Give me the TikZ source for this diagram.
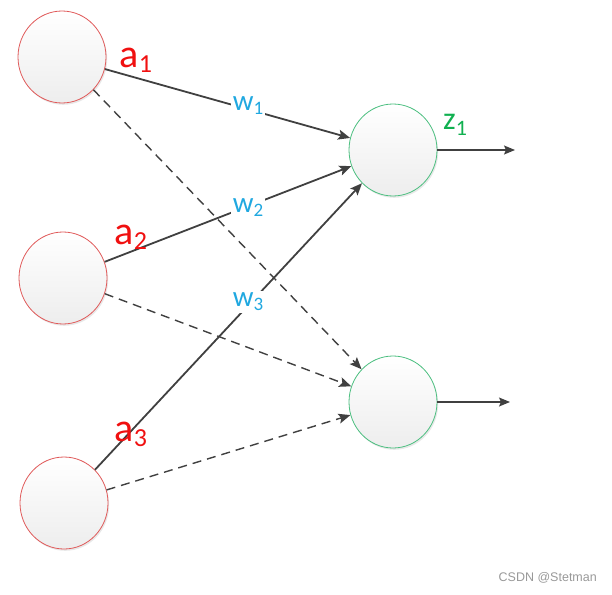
\documentclass[tikz,border=0pt]{standalone}
\usepackage{fontspec}
\setmainfont{Carlito}
\newfontfamily\wmfont{Liberation Sans}
\usetikzlibrary{shapes.geometric,arrows.meta,shadows}
\definecolor{labred}{HTML}{F01010}
\definecolor{labblue}{HTML}{20A8E0}
\definecolor{labgreen}{HTML}{10B050}
\definecolor{edgered}{HTML}{E05A5A}
\definecolor{edgegreen}{HTML}{4CBF80}
\definecolor{linegray}{HTML}{404040}
\newcommand{\mylab}[5]{\fontsize{#3}{#3}\selectfont #1\raisebox{-#5em}{\fontsize{#4}{#4}\selectfont #2}}
\tikzset{
  neuron/.style={shape=ellipse, minimum width=88pt, minimum height=92pt, inner sep=0pt,
    top color=white, bottom color=gray!14, line width=0.8pt,
    drop shadow={shadow xshift=1.2pt, shadow yshift=-1.8pt, opacity=0.18, fill=gray}},
  inneuron/.style={neuron, draw=edgered},
  outneuron/.style={neuron, draw=edgegreen},
  solidlink/.style={draw=linegray, line width=1.8pt, -{Stealth[length=12pt,width=10pt,inset=2.5pt]}},
  dashlink/.style={draw=linegray, line width=1.4pt, dash pattern=on 9pt off 6pt, -{Stealth[length=12pt,width=10pt,inset=2.5pt]}},
  outlink/.style={draw=linegray, line width=1.3pt, -{Stealth[length=11pt,width=9pt,inset=2pt]}},
  alab/.style={text=labred, inner sep=0pt},
  wlab/.style={text=labblue, fill=white, inner sep=1.5pt},
  zlab/.style={text=labgreen, inner sep=0pt}
}
\begin{document}
\begin{tikzpicture}[x=1pt,y=-1pt]
\useasboundingbox (0,0) rectangle (612,594);
\node[inneuron] (a1) at (62,57) {};
\node[inneuron] (a2) at (63,278) {};
\node[inneuron] (a3) at (64,503) {};
\node[outneuron] (z1) at (393,150) {};
\node[outneuron] (z2) at (393,402) {};
\coordinate (o1) at (515,150);
\coordinate (o2) at (510,402);
% dashed links
\draw[dashlink] (a1) -- (z2);
\draw[dashlink] (a2) -- (z2);
\draw[dashlink] (a3) -- (z2);
% solid links
\draw[solidlink] (a1) -- (z1);
\draw[solidlink] (a2) -- (z1);
\draw[solidlink] (a3) -- (z1);
% outputs
\draw[outlink] (z1.east) -- (o1);
\draw[outlink] (z2.east) -- (o2);
% labels
\node[wlab] (w1) at (248,106) {\mylab{w}{1}{29pt}{19pt}{0.14}};
\node[wlab] (w2) at (248,208) {\mylab{w}{2}{29pt}{19pt}{0.14}};
\node[wlab] (w3) at (248,302) {\mylab{w}{3}{29pt}{19pt}{0.14}};
\node[alab] (la1) at (136,60) {\mylab{a}{1}{40pt}{26pt}{0.12}};
\node[alab] (la2) at (131,237) {\mylab{a}{2}{40pt}{26pt}{0.12}};
\node[alab] (la3) at (131,434) {\mylab{a}{3}{40pt}{26pt}{0.12}};
\node[zlab] (lz1) at (455,125) {\mylab{z}{1}{32pt}{22pt}{0.18}};
\node[text=gray!80, anchor=east, inner sep=0pt] (wm) at (597,578) {\wmfont\fontsize{12.5pt}{12.5pt}\selectfont CSDN @Stetman};
\end{tikzpicture}
\end{document}
